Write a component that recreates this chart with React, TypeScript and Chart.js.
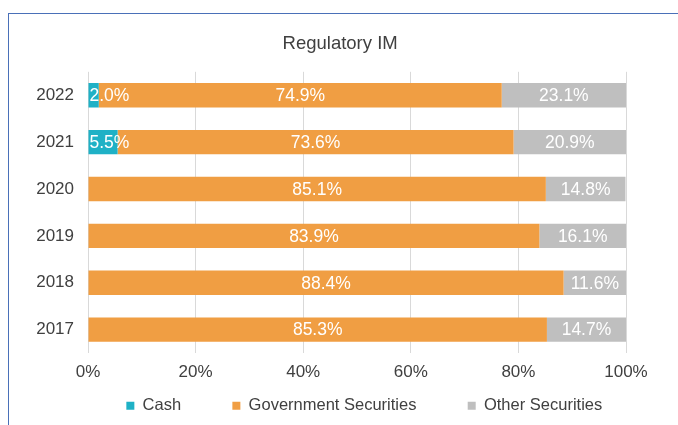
import React, { useEffect, useRef } from 'react';
import { Chart, registerables } from 'chart.js';

Chart.register(...registerables);

const years = ['2022', '2021', '2020', '2019', '2018', '2017'];
const cash = [2.0, 5.5, 0, 0, 0, 0];
const government = [74.9, 73.6, 85.1, 83.9, 88.4, 85.3];
const other = [23.1, 20.9, 14.8, 16.1, 11.6, 14.7];
const seriesNames = ['Cash', 'Government Securities', 'Other Securities'];
const xTicks = [0, 20, 40, 60, 80, 100];
const titleText = 'Regulatory IM';

const FONT = '"Liberation Sans", Arial, sans-serif';
const TEXT = '#404040';
const legendPad = ['         ', '         ', '   '];
const titleLead = '         ';

const segLabels = {
  id: 'segLabels',
  afterDatasetsDraw(chart: any) {
    const ctx = chart.ctx;
    ctx.save();
    ctx.font = `17.5px ${FONT}`;
    ctx.fillStyle = '#ffffff';
    ctx.textBaseline = 'middle';
    chart.data.datasets.forEach((ds: any, di: number) => {
      const meta = chart.getDatasetMeta(di);
      meta.data.forEach((el: any, i: number) => {
        const v = ds.data[i];
        if (!v) return;
        const { x, y, base } = el.getProps(['x', 'y', 'base'], true);
        const txt = v.toFixed(1) + '%';
        if (di === 0) {
          ctx.textAlign = 'left';
          ctx.fillText(txt, base + 1, y + 1);
        } else {
          ctx.textAlign = 'center';
          ctx.fillText(txt, (x + base) / 2, y + 1);
        }
      });
    });
    ctx.restore();
  },
};

export default function App() {
  const ref = useRef<HTMLCanvasElement | null>(null);
  useEffect(() => {
    if (!ref.current) return;
    const chart = new Chart(ref.current, {
      type: 'bar',
      data: {
        labels: years,
        datasets: [
          { label: seriesNames[0], data: cash, backgroundColor: '#1FB1C6' },
          { label: seriesNames[1], data: government, backgroundColor: '#F09E43' },
          { label: seriesNames[2], data: other, backgroundColor: '#BFBFBF' },
        ],
      },
      options: {
        indexAxis: 'y',
        responsive: false,
        animation: false,
        layout: { padding: { top: 33, left: 8, right: 52, bottom: 1 } },
        datasets: { bar: { categoryPercentage: 1, barPercentage: 0.52 } },
        scales: {
          x: {
            stacked: true,
            min: 0,
            max: 100,
            afterBuildTicks: (s: any) => { s.ticks = xTicks.map((v) => ({ value: v })); },
            afterFit: (s: any) => { s.height = 34.5; },
            border: { display: false },
            grid: { color: '#D9D9D9', drawTicks: false, lineWidth: 1 },
            ticks: { padding: 9, color: TEXT, font: { family: FONT, size: 17 }, callback: (v: any) => v + '%' },
          },
          y: {
            stacked: true,
            afterFit: (s: any) => { s.width = 80; },
            border: { display: false },
            grid: { display: false, drawTicks: false },
            ticks: { padding: 14, color: TEXT, font: { family: FONT, size: 17 } },
          },
        },
        plugins: {
          title: {
            display: true,
            text: titleLead + titleText,
            color: TEXT,
            font: { family: FONT, size: 18.5, weight: 'normal' },
            padding: { top: 0, bottom: 16.6 },
          },
          legend: {
            position: 'bottom',
            align: 'end',
            labels: {
              boxWidth: 8,
              boxHeight: 8,
              padding: 10,
              color: TEXT,
              font: { family: FONT, size: 16.5 },
              generateLabels: (c: any) => {
                const items = Chart.defaults.plugins.legend.labels.generateLabels(c);
                return items.map((it: any, i: number) => ({ ...it, text: it.text + legendPad[i], lineWidth: 0 }));
              },
            },
          },
          tooltip: { enabled: false },
        },
      },
      plugins: [segLabels],
    } as any);
    return () => chart.destroy();
  }, []);
  return (
    <div style={{ position: 'fixed', left: 0, top: 0, width: 678, height: 425, overflow: 'hidden', background: '#fff' }}>
      <div style={{ position: 'absolute', left: 8, top: 13, width: 680, height: 420, borderTop: '1px solid #4A70B8', borderLeft: '1px solid #4A70B8' }} />
      <canvas ref={ref} width={678} height={425} style={{ position: 'absolute', left: 0, top: 0, display: 'block' }} />
    </div>
  );
}
